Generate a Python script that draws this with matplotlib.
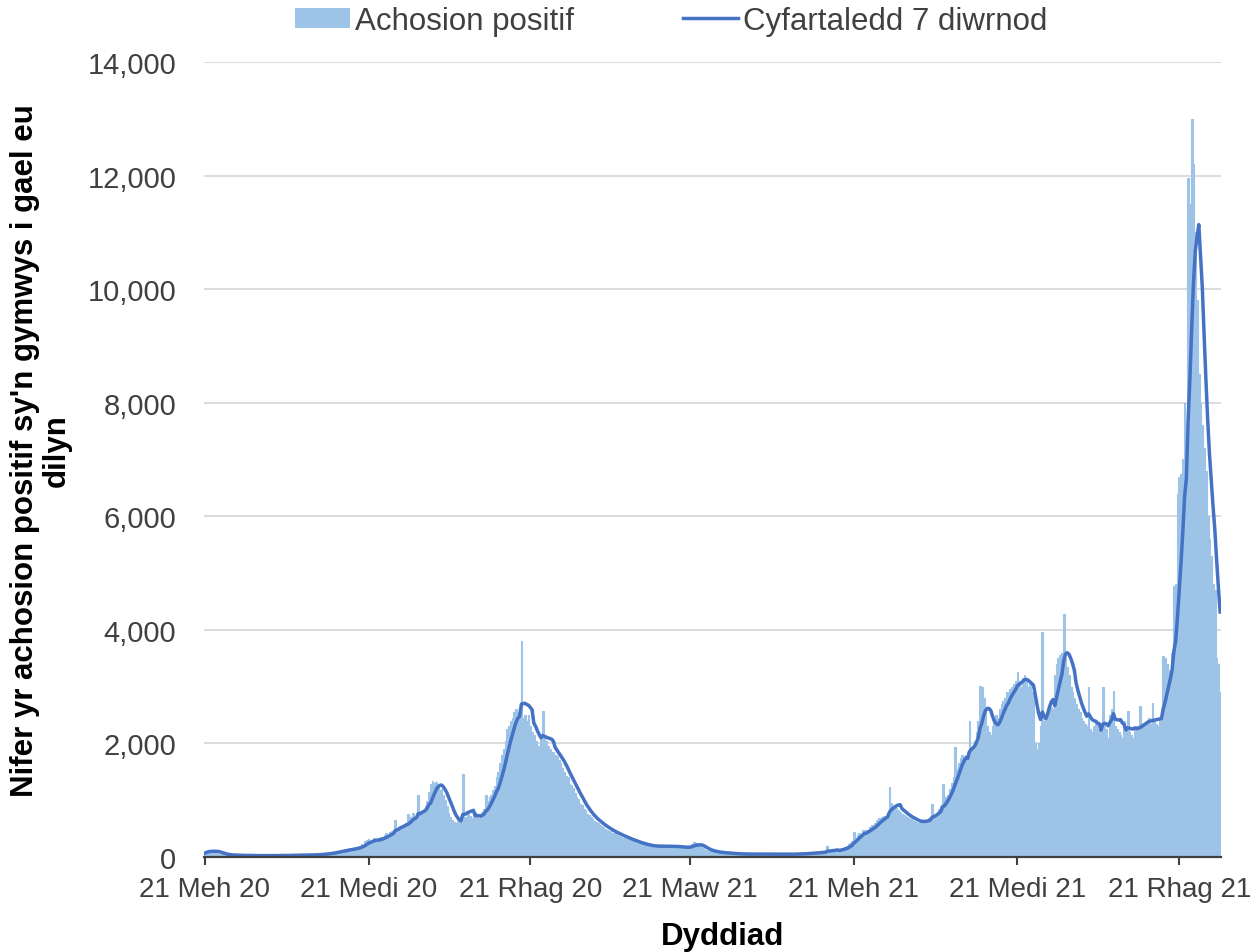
import numpy as np
import pandas as pd
import matplotlib
matplotlib.use("Agg")
import matplotlib.pyplot as plt
import matplotlib.ticker as ticker
from matplotlib.patches import Patch
from matplotlib.lines import Line2D

plt.rcParams['font.family'] = ['Liberation Sans', 'DejaVu Sans']

# ----------------- DATA -----------------

start_date = "2020-06-21"

# daily positive cases, one row per week
cases = [
    70, 95, 110, 120, 100, 115, 85,
    75, 60, 50, 45, 40, 35, 38,
    30, 32, 28, 35, 30, 25, 28,
    27, 30, 26, 24, 29, 22, 25,
    24, 26, 22, 28, 25, 20, 23,
    22, 27, 25, 30, 24, 21, 26,
    28, 30, 25, 32, 27, 24, 30,
    30, 34, 28, 36, 31, 26, 33,
    35, 38, 32, 40, 36, 30, 42,
    45, 50, 44, 60, 55, 48, 65,
    70, 80, 75, 95, 100, 85, 110,
    120, 130, 115, 140, 150, 125, 160,
    150, 170, 160, 190, 230, 210, 280,
    300, 320, 250, 290, 330, 270, 310,
    340, 360, 320, 380, 420, 390, 440,
    460, 480, 650, 500, 520, 550, 530,
    570, 600, 760, 640, 700, 780, 680,
    700, 1100, 740, 780, 830, 900, 980,
    1150, 1280, 1340, 1300, 1320, 1250, 1180,
    1200, 1100, 1000, 900, 780, 700, 650,
    620, 600, 640, 610, 650, 1460, 680,
    700, 760, 720, 690, 740, 800, 700,
    680, 720, 800, 850, 1100, 980, 1050,
    1100, 1180, 1250, 1400, 1500, 1650, 1800,
    1900, 2050, 2250, 2300, 2400, 2450, 2550,
    2600, 2550, 2500, 3800, 2450, 2500, 2400,
    2500, 2300, 2200, 2150, 2050, 1950, 1950,
    2100, 2570, 2100, 2050, 1950, 1900, 1850,
    1850, 1800, 1780, 1700, 1650, 1560, 1500,
    1430, 1400, 1280, 1260, 1220, 1120, 1060,
    1020, 940, 910, 840, 820, 750, 740,
    700, 670, 640, 610, 590, 570, 550,
    520, 500, 480, 460, 450, 430, 420,
    400, 390, 370, 360, 340, 330, 320,
    310, 295, 280, 270, 260, 250, 240,
    230, 220, 215, 205, 200, 195, 190,
    185, 190, 200, 185, 190, 195, 180,
    190, 185, 200, 180, 195, 185, 175,
    175, 180, 170, 165, 175, 170, 160,
    200, 230, 260, 240, 210, 190, 170,
    150, 130, 120, 110, 100, 95, 90,
    85, 80, 78, 75, 72, 70, 68,
    65, 62, 60, 58, 56, 55, 54,
    52, 55, 50, 53, 48, 52, 50,
    48, 52, 60, 50, 47, 55, 49,
    50, 48, 52, 46, 55, 50, 47,
    49, 45, 52, 48, 50, 46, 51,
    50, 53, 48, 55, 52, 58, 56,
    60, 58, 65, 62, 70, 68, 72,
    75, 80, 78, 85, 90, 88, 95,
    190, 100, 105, 110, 115, 120, 125,
    130, 150, 160, 175, 190, 220, 250,
    280, 440, 330, 380, 420, 400, 470,
    450, 480, 470, 520, 560, 560, 600,
    660, 680, 690, 710, 730, 720, 760,
    1230, 950, 900, 880, 870, 820, 800,
    760, 740, 720, 700, 690, 670, 650,
    640, 620, 600, 610, 620, 640, 660,
    660, 680, 690, 930, 720, 760, 800,
    850, 900, 1280, 1000, 1050, 1100, 1200,
    1300, 1400, 1930, 1550, 1650, 1750, 1800,
    1750, 1800, 1850, 2390, 1900, 1950, 2050,
    2200, 2400, 3010, 3000, 2800, 2600, 2300,
    2200, 2150, 2300, 2400, 2500, 2450, 2600,
    2700, 2750, 2800, 2900, 2850, 2950, 3000,
    3050, 3100, 3250, 3100, 3000, 3150, 3200,
    3100, 3000, 3050, 2900, 2800, 2000, 1900,
    2000, 2300, 3960, 2400, 2500, 2600, 2700,
    2650, 2600, 3200, 3400, 3500, 3550, 3600,
    4280, 3500, 3350, 3200, 3000, 2900, 2800,
    2700, 2600, 2550, 2450, 2400, 2350, 2300,
    3000, 2250, 2200, 2300, 2350, 2080, 2250,
    2200, 2990, 2300, 2250, 2100, 2500, 2600,
    2930, 2300, 2250, 2200, 2150, 2100, 2400,
    2250, 2570, 2200, 2150, 2100, 2250, 2300,
    2300, 2660, 2350, 2300, 2250, 2400, 2450,
    2350, 2720, 2400, 2350, 2300, 2450, 2500,
    3540, 3500, 3400, 3300, 3250, 3600, 4780,
    4800, 6390, 6700, 6740, 7000, 8000, 7000,
    11950, 11500, 13000, 12200, 11000, 9800, 8500,
    8000, 7600, 7200, 6800, 6000, 5600, 5300,
    4800, 4700, 3500, 3400, 2900,
]

tick_dates = ["2020-06-21", "2020-09-21", "2020-12-21", "2021-03-21",
              "2021-06-21", "2021-09-21", "2021-12-21"]
tick_labels = ["21 Meh 20", "21 Medi 20", "21 Rhag 20", "21 Maw 21",
               "21 Meh 21", "21 Medi 21", "21 Rhag 21"]
y_ticks = [0, 2000, 4000, 6000, 8000, 10000, 12000, 14000]

bar_label = "Achosion positif"
line_label = "Cyfartaledd 7 diwrnod"

# ----------------- PLOT -----------------

bar_color = "#9DC3E6"
line_color = "#4472C4"
text_color = "#404040"

dates = pd.date_range(start_date, periods=len(cases), freq="D")
avg7 = pd.Series(cases).rolling(7, min_periods=1).mean()

fig = plt.figure(figsize=(12.58, 9.53), dpi=100)
ax = fig.add_axes([0.1622, 0.0997, 0.8084, 0.8342])

# thin edge in the same colour closes the seams between 1.8 px wide bars
ax.bar(dates, cases, width=1.0, color=bar_color, edgecolor=bar_color, linewidth=0.8, zorder=2)
ax.plot(dates, avg7, color=line_color, lw=2.5, zorder=3)

ax.set_xlim(dates[0] - pd.Timedelta(hours=12), dates[-1] + pd.Timedelta(hours=12))
ax.set_ylim(0, 14000)
ax.set_yticks(y_ticks)
ax.yaxis.set_major_formatter(ticker.StrMethodFormatter('{x:,.0f}'))
ax.grid(axis='y', color='#d9d9d9', lw=1.3, zorder=0)
ax.set_axisbelow(True)

for side in ['top', 'right', 'left']:
    ax.spines[side].set_visible(False)
ax.spines['bottom'].set_color(text_color)
ax.spines['bottom'].set_linewidth(1.6)
ax.spines['bottom'].set_zorder(4)

ax.set_xticks(pd.to_datetime(tick_dates))
ax.set_xticklabels(tick_labels)
ax.tick_params(axis='y', length=0, pad=20, labelsize=21, labelcolor=text_color)
ax.tick_params(axis='x', length=6, width=1.5, color=text_color, direction='out',
               pad=8, labelsize=20, labelcolor=text_color)

fig.text(0.0326, 0.527, "Nifer yr achosion positif sy'n gymwys i gael eu\ndilyn",
         rotation=90, ha='center', va='center', multialignment='center',
         fontsize=22.5, fontweight='bold', color='black', linespacing=1.1)
fig.text(0.574, 0.0168, "Dyddiad", ha='center', va='center',
         fontsize=22.5, fontweight='bold', color='black')

handles = [Patch(facecolor=bar_color, edgecolor='none'),
           Line2D([], [], color=line_color, lw=2.5)]
fig.legend(handles, [bar_label, line_label], loc='center', bbox_to_anchor=(0.5334, 0.977),
           ncol=2, frameon=False, fontsize=22.5, handlelength=1.76, handleheight=0.65,
           handletextpad=0.15, columnspacing=3.5, labelcolor=text_color)

fig.savefig("out.png", dpi=100)
